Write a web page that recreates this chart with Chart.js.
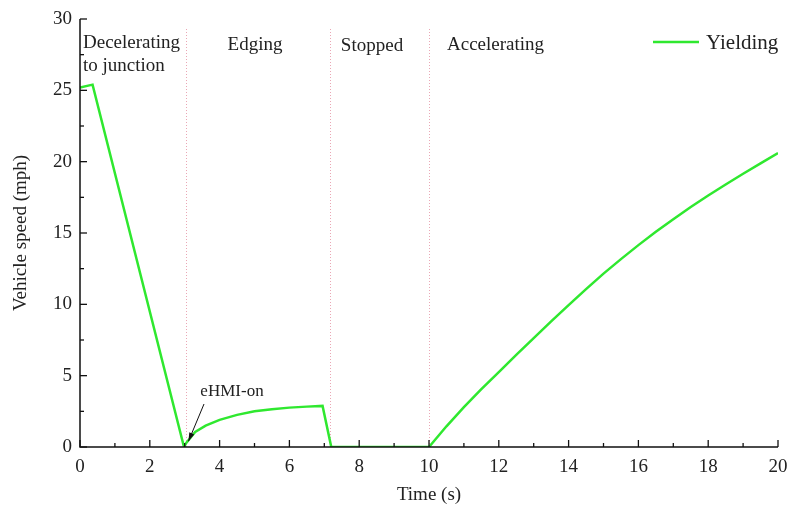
<!DOCTYPE html>
<html>
<head>
<meta charset="utf-8">
<script src="https://cdn.jsdelivr.net/npm/chart.js@4.4.0/dist/chart.umd.min.js"></script>
<style>
  html, body { margin: 0; padding: 0; background: #fff; }
  #wrap { width: 792px; height: 510px; }
</style>
</head>
<body>
<div id="wrap"><canvas id="speed-canvas"></canvas></div>
<script>
// data
var times = [0, 0.36, 2.98, 3.05, 3.3, 3.6, 4, 4.5, 5, 5.5, 6, 6.5, 6.95, 7.2, 10,
  10.5, 11, 11.5, 12, 12.5, 13, 13.5, 14, 14.5, 15, 15.5, 16, 16.5, 17, 17.5, 18, 18.5, 19, 19.5, 20];
var speeds = [25.2, 25.4, 0, 0.3, 1.05, 1.5, 1.9, 2.25, 2.5, 2.65, 2.76, 2.83, 2.88, 0, 0,
  1.45, 2.8, 4.05, 5.25, 6.45, 7.63, 8.8, 9.95, 11.07, 12.15, 13.17, 14.15, 15.08, 15.97, 16.82, 17.63, 18.4, 19.15, 19.88, 20.6];
var phaseBounds = [3.03, 7.15, 10.0];
var phaseNames = [["Decelerating", "to junction"], ["Edging"], ["Stopped"], ["Accelerating"]];
var seriesName = "Yielding";
var noteText = "eHMI-on";

var serif = "'Liberation Serif', 'DejaVu Serif', serif";
var green = "#2fe82f";

var points = times.map(function (t, i) {
  return { x: t, y: speeds[i] };
});

// axes, inward ticks, phase lines and labels
var decorPlugin = {
  id: "decor",
  beforeDatasetsDraw: function (chart) {
    var ctx = chart.ctx;
    var area = chart.chartArea;
    var xs = chart.scales.x;
    ctx.save();
    ctx.strokeStyle = "rgba(225,130,150,0.7)";
    ctx.lineWidth = 1;
    ctx.setLineDash([1, 2]);
    phaseBounds.forEach(function (b) {
      var px = Math.round(xs.getPixelForValue(b)) + 0.5;
      ctx.beginPath();
      ctx.moveTo(px, area.top + 10);
      ctx.lineTo(px, area.bottom);
      ctx.stroke();
    });
    ctx.restore();
  },
  afterDatasetsDraw: function (chart) {
    var ctx = chart.ctx;
    var area = chart.chartArea;
    var xs = chart.scales.x;
    var ys = chart.scales.y;
    ctx.save();
    ctx.strokeStyle = "#111";
    ctx.lineWidth = 1.5;
    ctx.beginPath();
    ctx.moveTo(area.left, area.top);
    ctx.lineTo(area.left, area.bottom);
    ctx.lineTo(area.right, area.bottom);
    ctx.stroke();

    ctx.lineWidth = 1.3;
    var v, px, py, len;
    for (v = 0; v <= 20; v += 1) {
      px = xs.getPixelForValue(v);
      len = v % 2 === 0 ? 7 : 4;
      ctx.beginPath();
      ctx.moveTo(px, area.bottom);
      ctx.lineTo(px, area.bottom - len);
      ctx.stroke();
    }
    for (v = 0; v <= 30; v += 2.5) {
      py = ys.getPixelForValue(v);
      len = v % 5 === 0 ? 7 : 4;
      ctx.beginPath();
      ctx.moveTo(area.left, py);
      ctx.lineTo(area.left + len, py);
      ctx.stroke();
    }

    // phase labels
    ctx.fillStyle = "#222";
    ctx.font = "19px " + serif;
    ctx.textBaseline = "middle";
    ctx.textAlign = "left";
    ctx.fillText(phaseNames[0][0], area.left + 3, 43);
    ctx.fillText(phaseNames[0][1], area.left + 3, 66);
    ctx.textAlign = "center";
    ctx.fillText(phaseNames[1][0], 255, 45);
    ctx.fillText(phaseNames[2][0], 372, 46);
    ctx.textAlign = "left";
    ctx.fillText(phaseNames[3][0], 447, 45);

    // legend
    ctx.strokeStyle = green;
    ctx.lineWidth = 2.5;
    ctx.beginPath();
    ctx.moveTo(653, 42);
    ctx.lineTo(699, 42);
    ctx.stroke();
    ctx.font = "21px " + serif;
    ctx.fillText(seriesName, 706, 43);

    // eHMI-on note with arrow
    ctx.font = "17px " + serif;
    ctx.textAlign = "center";
    ctx.fillText(noteText, 232, 392);
    var x1 = 204, y1 = 404;
    var x2 = xs.getPixelForValue(3.05) + 2, y2 = ys.getPixelForValue(0.4);
    ctx.strokeStyle = "#111";
    ctx.lineWidth = 1;
    ctx.beginPath();
    ctx.moveTo(x1, y1);
    ctx.lineTo(x2, y2);
    ctx.stroke();
    var ang = Math.atan2(y2 - y1, x2 - x1);
    ctx.fillStyle = "#111";
    ctx.beginPath();
    ctx.moveTo(x2, y2);
    ctx.lineTo(x2 - 9 * Math.cos(ang - 0.3), y2 - 9 * Math.sin(ang - 0.3));
    ctx.lineTo(x2 - 9 * Math.cos(ang + 0.3), y2 - 9 * Math.sin(ang + 0.3));
    ctx.closePath();
    ctx.fill();
    ctx.restore();
  },
};

new Chart(document.getElementById("speed-canvas"), {
  type: "line",
  data: {
    datasets: [
      {
        label: seriesName,
        data: points,
        borderColor: green,
        backgroundColor: green,
        borderWidth: 2.5,
        pointRadius: 0,
        tension: 0,
        fill: false,
      },
    ],
  },
  options: {
    responsive: true,
    maintainAspectRatio: false,
    animation: false,
    layout: { padding: { top: 19, right: 14, left: 0, bottom: 0 } },
    plugins: {
      legend: { display: false },
      tooltip: { enabled: false },
    },
    scales: {
      x: {
        type: "linear",
        min: 0,
        max: 20,
        grid: { display: false, drawTicks: false },
        border: { display: false },
        ticks: {
          stepSize: 2,
          padding: 9,
          maxRotation: 0,
          color: "#222",
          font: { family: serif, size: 19 },
        },
        title: {
          display: true,
          text: "Time (s)",
          color: "#222",
          padding: { top: 4, bottom: 4 },
          font: { family: serif, size: 19 },
        },
        afterFit: function (scale) {
          scale.height = 63;
          scale.paddingLeft = 0;
          scale.paddingRight = 0;
        },
      },
      y: {
        min: 0,
        max: 30,
        grid: { display: false, drawTicks: false },
        border: { display: false },
        ticks: {
          stepSize: 5,
          padding: 8,
          color: "#222",
          font: { family: serif, size: 19 },
        },
        title: {
          display: true,
          text: "Vehicle speed (mph)",
          color: "#222",
          padding: { top: 10, bottom: 4 },
          font: { family: serif, size: 19 },
        },
        afterFit: function (scale) {
          scale.width = 80;
          scale.paddingTop = 0;
          scale.paddingBottom = 0;
        },
      },
    },
  },
  plugins: [decorPlugin],
});
</script>
</body>
</html>
